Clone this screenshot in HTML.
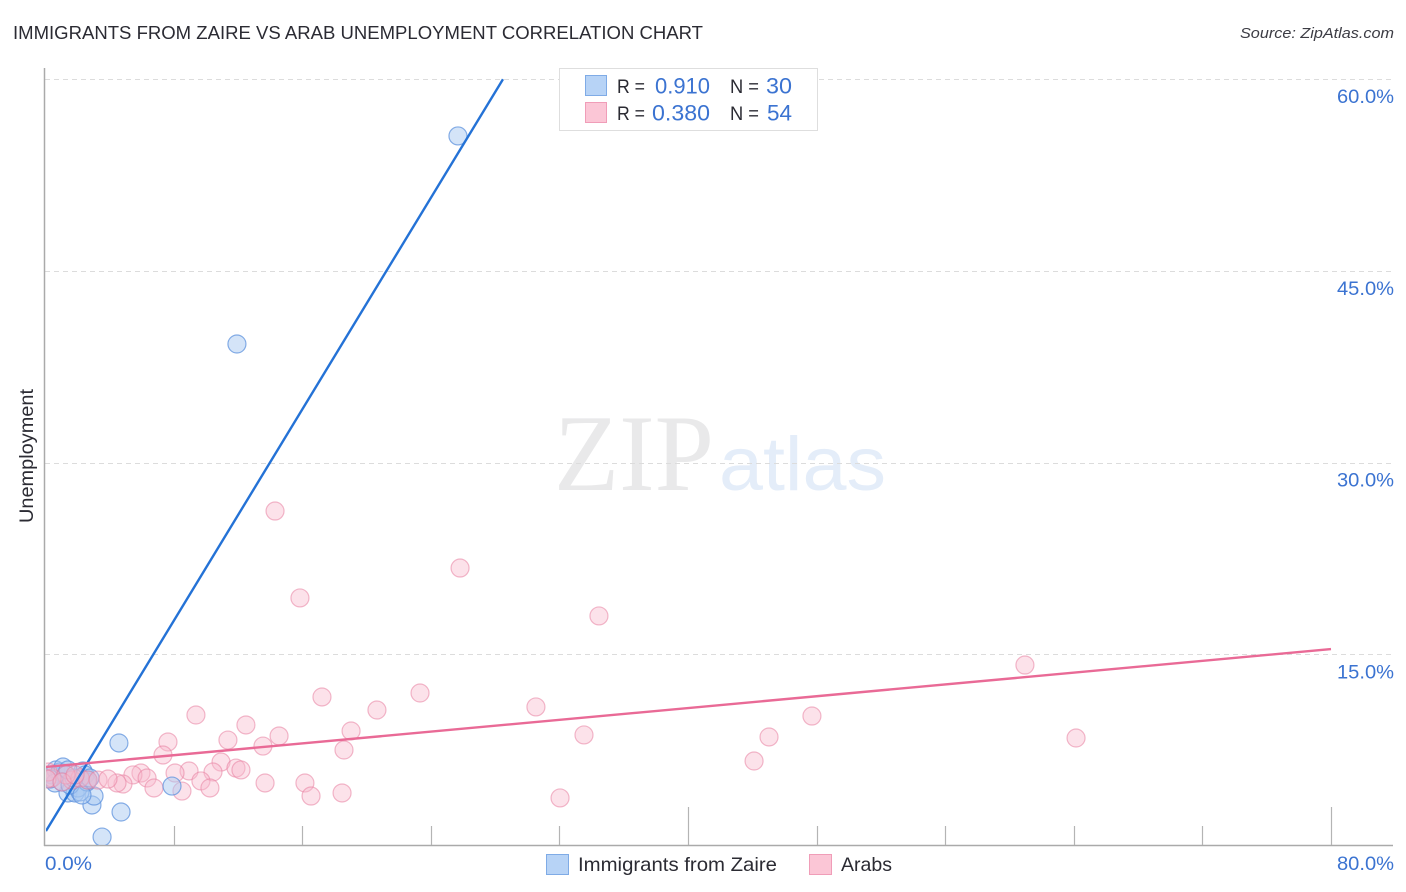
<!DOCTYPE html>
<html lang="en">
<head>
<meta charset="utf-8">
<title>Immigrants from Zaire vs Arab Unemployment Correlation Chart</title>
<style>
html,body{margin:0;padding:0;background:#fff;width:1406px;height:892px;overflow:hidden}
svg{display:block;font-family:"Liberation Sans",sans-serif}
</style>
</head>
<body>
<svg id="chart" width="1406" height="892" viewBox="0 0 1406 892" xmlns="http://www.w3.org/2000/svg">
  <defs><clipPath id="plot-clip"><rect x="46" y="60" width="1347" height="785"/></clipPath></defs>
  <text x="13" y="39" font-size="18.5" fill="#2b2b33" textLength="690" lengthAdjust="spacingAndGlyphs">IMMIGRANTS FROM ZAIRE VS ARAB UNEMPLOYMENT CORRELATION CHART</text>
  <text x="1394" y="38" font-size="15" font-style="italic" fill="#3c3c44" text-anchor="end" textLength="154" lengthAdjust="spacingAndGlyphs">Source: ZipAtlas.com</text>
  <g>
    <text x="554" y="490" font-family="'Liberation Serif',serif" font-size="109" fill="#e9e9ea" textLength="160" lengthAdjust="spacingAndGlyphs">ZIP</text>
    <text x="719" y="490" font-family="'Liberation Sans',sans-serif" font-size="76" fill="#e4edf9" textLength="167" lengthAdjust="spacingAndGlyphs">atlas</text>
  </g>
  <g id="grid"></g>
  <g id="axes"></g>
  <text transform="translate(33,456) rotate(-90)" font-size="19" fill="#2b2b33" text-anchor="middle" textLength="134" lengthAdjust="spacingAndGlyphs">Unemployment</text>
  <g clip-path="url(#plot-clip)">
    <g id="marks-pink"></g>
    <g id="marks-blue"></g>
    <g id="marks-pink-front"></g>
    <g id="trends"></g>
  </g>

  <g>
    <rect x="559.5" y="68.5" width="258" height="62" fill="#fff" stroke="#dedede" stroke-width="1"/>
    <rect x="585.5" y="75.5" width="21" height="20" fill="#b7d3f6" stroke="#7fabe6"/>
    <rect x="585.5" y="102.5" width="21" height="20" fill="#fbc6d6" stroke="#f09db8"/>
    <text x="617" y="93" font-size="19.5" fill="#2b2b33" textLength="28" lengthAdjust="spacingAndGlyphs">R =</text>
    <text x="710" y="93.5" font-size="22" fill="#3b73d1" text-anchor="end" textLength="55" lengthAdjust="spacingAndGlyphs">0.910</text>
    <text x="730" y="93" font-size="19.5" fill="#2b2b33" textLength="29" lengthAdjust="spacingAndGlyphs">N =</text>
    <text x="792" y="93.5" font-size="22" fill="#3b73d1" text-anchor="end" textLength="26" lengthAdjust="spacingAndGlyphs">30</text>
    <text x="617" y="120" font-size="19.5" fill="#2b2b33" textLength="28" lengthAdjust="spacingAndGlyphs">R =</text>
    <text x="710" y="120.5" font-size="22" fill="#3b73d1" text-anchor="end" textLength="58" lengthAdjust="spacingAndGlyphs">0.380</text>
    <text x="730" y="120" font-size="19.5" fill="#2b2b33" textLength="29" lengthAdjust="spacingAndGlyphs">N =</text>
    <text x="792" y="120.5" font-size="22" fill="#3b73d1" text-anchor="end" textLength="25" lengthAdjust="spacingAndGlyphs">54</text>
  </g>

  <g>
    <g>
      <rect x="546.5" y="854.5" width="22" height="20" fill="#b7d3f6" stroke="#7fabe6"/>
      <text x="578" y="871" font-size="19.5" fill="#2b2b33" textLength="199" lengthAdjust="spacingAndGlyphs">Immigrants from Zaire</text>
    </g>
    <g>
      <rect x="809.5" y="854.5" width="22" height="20" fill="#fbc6d6" stroke="#f09db8"/>
      <text x="841" y="871" font-size="19.5" fill="#2b2b33" textLength="51" lengthAdjust="spacingAndGlyphs">Arabs</text>
    </g>
  </g>
</svg>
<script>
var zaireX = [25.69,11.94,4.60,3.55,4.73,2.92,3.05,7.90,0.44,0.68,0.93,1.12,1.31,1.43,1.68,1.87,2.05,2.18,2.36,2.49,2.61,2.67,2.80,0.62,0.31,1.06,1.56,1.80,2.30,1.43];
var zaireY = [55.56,39.28,8.06,0.70,2.66,3.21,3.91,4.69,5.56,5.95,5.79,6.18,5.56,4.15,5.16,4.15,4.54,4.23,5.87,5.56,5.01,5.16,5.32,4.93,5.24,5.01,4.77,5.32,3.99,5.95];
var arabsX = [14.31,25.82,15.86,34.46,60.96,17.23,23.33,20.65,9.39,30.54,47.71,12.50,19.04,64.14,33.53,45.04,14.56,11.38,7.65,13.56,18.60,7.34,44.11,10.95,11.88,12.19,10.45,8.96,8.09,5.97,5.47,6.35,9.70,6.78,8.52,10.26,13.69,16.17,16.55,18.48,32.04,4.85,4.48,1.68,2.18,1.31,0.44,0.19,0.12,2.67,1.06,1.87,3.30,3.92];
var arabsY = [26.21,21.75,19.41,18.00,14.16,11.66,11.97,10.64,10.25,10.88,10.17,9.47,9.00,8.45,8.69,8.53,8.61,8.29,8.14,7.82,7.51,7.12,6.65,6.57,6.10,5.95,5.79,5.87,5.71,5.71,5.56,5.32,5.09,4.54,4.30,4.54,4.93,4.93,3.91,4.15,3.76,4.85,4.93,5.16,5.32,5.56,5.32,5.79,5.24,5.16,5.01,5.56,5.16,5.24];
var zaireTrendX = [0.06,28.49];
var zaireTrendY = [1.17,60];
var arabsTrendX = [0,80];
var arabsTrendY = [6.18,15.41];
var yTickValues = [15,30,45,60];
var yTickLabels = ["15.0%","30.0%","45.0%","60.0%"];
var xTickValues = [8,16,24,32,40,48,56,64,72,80];
var xMajorTicks = [40,80];
var xEndValues = [0,80];
var xEndLabels = ["0.0%","80.0%"];

var NS = 'http://www.w3.org/2000/svg';
function xScale(v){ return 45 + v * 16.075; }
function yScale(v){ return 846 - v * 12.78; }
function make(tag, attrs, parent){
  var el = document.createElementNS(NS, tag);
  for (var k in attrs) el.setAttribute(k, attrs[k]);
  parent.appendChild(el);
  return el;
}
var gridG = document.getElementById('grid');
var axesG = document.getElementById('axes');
var blueG = document.getElementById('marks-blue');
var pinkG = document.getElementById('marks-pink');
var pinkFrontG = document.getElementById('marks-pink-front');
var trendG = document.getElementById('trends');

yTickValues.forEach(function(v, i){
  var y = Math.round(yScale(v)) + 0.5;
  var line = make('line', {x1:45, x2:1393, y1:y, y2:y, stroke:'#dcdcdc', 'stroke-width':1, 'stroke-dasharray':'5 4'}, gridG);
  
  
  var label = make('text', {x:1394, y:yScale(v) + 24, 'font-size':19.5, fill:'#3b73d1', 'text-anchor':'end', textLength:57, lengthAdjust:'spacingAndGlyphs'}, axesG);
  label.textContent = yTickLabels[i];
  
  
});

var yAxis = make('line', {x1:44.5, x2:44.5, y1:68, y2:846, stroke:'#aaaaaa', 'stroke-width':1.5}, axesG);


var xAxis = make('line', {x1:44, x2:1393, y1:845.5, y2:845.5, stroke:'#aaaaaa', 'stroke-width':1.5}, axesG);



xTickValues.forEach(function(v){
  var x = Math.round(xScale(v)) + 0.5;
  var major = xMajorTicks.indexOf(v) !== -1;
  var tick = make('line', {x1:x, x2:x, y1:major ? 807 : 826, y2:845, stroke:'#b4b4b4', 'stroke-width':1.2}, axesG);
  
  
});

xEndValues.forEach(function(v, i){
  var label = make('text', {x:i === 0 ? xScale(v) : 1394, y:870, 'font-size':19.5, fill:'#3b73d1', 'text-anchor':i === 0 ? 'start' : 'end', textLength:i === 0 ? 47 : 57, lengthAdjust:'spacingAndGlyphs'}, axesG);
  label.textContent = xEndLabels[i];
  
  
});

arabsX.forEach(function(v, i){
  var c = make('circle', {cx:xScale(v), cy:yScale(arabsY[i]), r:9, fill:'#f8b9cd', 'fill-opacity':0.42, stroke:'#e87fa0', 'stroke-opacity':0.55, 'stroke-width':1.2}, v < 5 ? pinkFrontG : pinkG);
  
  
});

zaireX.forEach(function(v, i){
  var c = make('circle', {cx:xScale(v), cy:yScale(zaireY[i]), r:9, fill:'#a9c9f2', 'fill-opacity':0.5, stroke:'#5f93de', 'stroke-opacity':0.75, 'stroke-width':1.2}, blueG);
  
  
});

var blueTrend = make('line', {x1:xScale(zaireTrendX[0]), y1:yScale(zaireTrendY[0]), x2:xScale(zaireTrendX[1]), y2:yScale(zaireTrendY[1]), stroke:'#2472d6', 'stroke-width':2.4}, trendG);


var pinkTrend = make('line', {x1:xScale(arabsTrendX[0]), y1:yScale(arabsTrendY[0]), x2:xScale(arabsTrendX[1]), y2:yScale(arabsTrendY[1]), stroke:'#e96a96', 'stroke-width':2.4}, trendG);


</script>
</body>
</html>
